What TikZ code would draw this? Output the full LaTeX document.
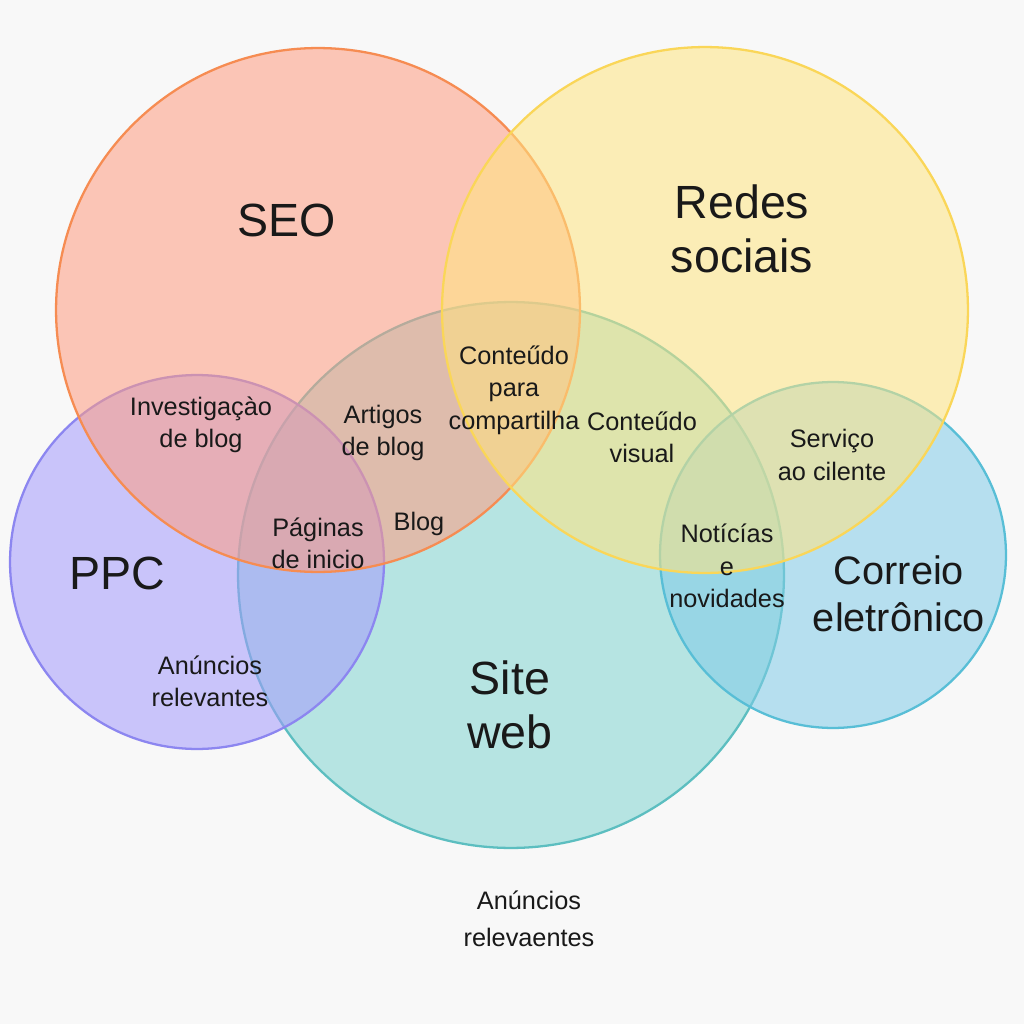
\documentclass[tikz,border=0pt]{standalone}
\usepackage{fontspec}
\setmainfont{Liberation Sans}
\usepackage{tikz}

\definecolor{seofill}{RGB}{255,156,128}
\definecolor{seoline}{RGB}{246,140,82}
\definecolor{redesfill}{RGB}{255,228,128}
\definecolor{redesline}{RGB}{250,214,88}
\definecolor{sitefill}{RGB}{128,212,208}
\definecolor{siteline}{RGB}{92,190,192}
\definecolor{ppcfill}{RGB}{164,154,252}
\definecolor{ppcline}{RGB}{140,134,240}
\definecolor{mailfill}{RGB}{128,204,232}
\definecolor{mailline}{RGB}{88,190,214}
\definecolor{bgcol}{RGB}{248,248,248}

\begin{document}
\begin{tikzpicture}[x=0.02cm,y=-0.02cm,
  big/.style={align=center,font=\fontsize{26.5}{30.5}\selectfont,text=black!90},
  small/.style={align=center,font=\fontsize{14.4}{18.4}\selectfont,text=black!90},
  ring/.style={line width=1.3pt,fill opacity=0.55}]
\fill[bgcol] (0,0) rectangle (1024,1024);
\useasboundingbox (0,0) rectangle (1024,1024);
% circles
\draw[ring,draw=siteline,fill=sitefill] (511,575) circle (5.46cm);
\draw[ring,draw=ppcline,fill=ppcfill] (197,562) circle (3.74cm);
\draw[ring,draw=mailline,fill=mailfill] (833,555) circle (3.46cm);
\draw[ring,draw=seoline,fill=seofill] (318,310) circle (5.24cm);
\draw[ring,draw=redesline,fill=redesfill] (705,310) circle (5.26cm);
% big labels
\node[big] (seo) at (287,220) {SEO};
\node[big] (redes) at (742,229) {Redes\\sociais};
\node[big] (site) at (510,705) {Site\\web};
\node[big] (ppc) at (117,573) {PPC};
\node[big,font=\fontsize{22.6}{26.6}\selectfont] (mail) at (899,594) {Correio\\eletrônico};
% small labels
\node[small] (compart) at (514,390) {Conteűdo\\para\\compartilha};
\node[small] (visual) at (642,437) {Conteűdo\\visual};
\node[small] (invest) at (201,425) {Investigaçào\\de blog};
\node[small] (artigos) at (383,433) {Artigos\\de blog};
\node[small] (blog) at (419,524) {Blog};
\node[small] (paginas) at (318,543) {Páginas\\de inicio};
\node[small] (servico) at (832,455) {Serviço\\ao cilente};
\node[small] (noticias) at (727,566) {Notícías\\e\\novidades};
\node[small] (anuncios) at (210,681) {Anúncios\\relevantes};
\node[small,font=\fontsize{14.4}{21}\selectfont] (anuncios2) at (529,919) {Anúncios\\relevaentes};
\end{tikzpicture}
\end{document}
